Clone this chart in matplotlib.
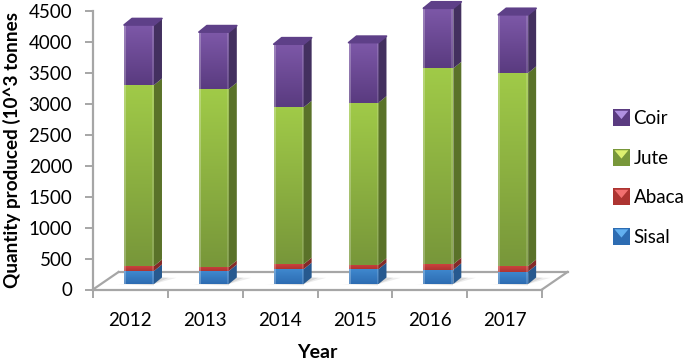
import numpy as np
import matplotlib
matplotlib.use('Agg')
import matplotlib.pyplot as plt
from matplotlib.colors import to_rgb
from matplotlib.legend_handler import HandlerBase
from matplotlib.patches import Patch, Polygon
from matplotlib.transforms import Affine2D, IdentityTransform

plt.rcParams['font.family'] = ['Lato', 'DejaVu Sans']

# Data (10^3 tonnes)
years = ['2012', '2013', '2014', '2015', '2016', '2017']
sisal = [210, 210, 240, 240, 230, 200]
abaca = [80, 65, 80, 70, 90, 90]
jute = [2925, 2875, 2535, 2620, 3165, 3120]
coir = [970, 920, 1020, 970, 970, 940]

series_names = ['Sisal', 'Abaca', 'Jute', 'Coir']
series_values = [sisal, abaca, jute, coir]

# front top, front bottom, side, light legend corner
colors = {
    'Sisal': ('#3F88CE', '#2D6CB2', '#27598F', '#62B0F0'),
    'Abaca': ('#CC423E', '#AD3431', '#842A28', '#F27070'),
    'Jute': ('#A0CA48', '#78973A', '#5A7229', '#DDF070'),
    'Coir': ('#7D58A8', '#5A3B80', '#43305F', '#B090E0'),
}

W, H = 685, 363
AX_LEFT, AX_RIGHT, AX_TOP, AX_BOTTOM = 93, 542, 11, 289.5
BAR_WIDTH = 0.4
FRONT_DX, FRONT_DY = 8.6, 5.5   # px offset of the bar fronts from the axis plane
DEPTH_DX, DEPTH_DY = 8, 6.5     # px depth of the bars
FLOOR_DX, FLOOR_DY = 25.5, 17.5
GRAY = '#A6A6A6'

fig = plt.figure(figsize=(W / 100, H / 100), dpi=100)
ax = fig.add_axes([AX_LEFT / W, 1 - AX_BOTTOM / H,
                   (AX_RIGHT - AX_LEFT) / W, (AX_BOTTOM - AX_TOP) / H])
ax.set_xlim(0, 6)
ax.set_ylim(0, 4500)


def shifted(dx, dy):
    return ax.transData + Affine2D().translate(dx, dy)


def gradient(top, bottom):
    # vertical shading with slightly lighter side edges, like the bevel in the original
    t = np.linspace(0, 1, 40)[:, None, None]
    img = np.array(to_rgb(top))[None, None, :] * (1 - t) + np.array(to_rgb(bottom))[None, None, :] * t
    img = np.repeat(img, 30, axis=1)
    img[:, :2] = img[:, :2] * 0.75 + 0.25
    img[:, -2:] = img[:, -2:] * 0.85 + 0.15
    return img


# floor
ax.plot([0, 6], [0, 0], color=GRAY, lw=1.6, transform=shifted(FLOOR_DX, FLOOR_DY), clip_on=False, zorder=1)
for x0 in (0, 6):
    p0 = ax.transData.transform((x0, 0))
    ax.plot([p0[0], p0[0] + FLOOR_DX], [p0[1], p0[1] + FLOOR_DY], color=GRAY, lw=1.6,
            transform=IdentityTransform(), clip_on=False, zorder=1)

front = shifted(FRONT_DX, FRONT_DY)
px_per_cat = (AX_RIGHT - AX_LEFT) / 6
px_per_val = (AX_BOTTOM - AX_TOP) / 4500
dx_cat = DEPTH_DX / px_per_cat
dy_val = DEPTH_DY / px_per_val

for i, year in enumerate(years):
    x0 = i + 0.5 - BAR_WIDTH / 2
    x1 = i + 0.5 + BAR_WIDTH / 2

    # soft shadow on the floor
    for grow, alpha in ((1.0, 0.14), (0.65, 0.2), (0.35, 0.28)):
        ax.add_patch(Polygon([(x1, 0), (x1 + grow * 0.3, dy_val * 0.95), (x1 + dx_cat, dy_val),
                              (x1, dy_val * 0.2)],
                             transform=front, facecolor='#808080', edgecolor='none', alpha=alpha,
                             clip_on=False, zorder=2))
        ax.add_patch(Polygon([(x0 - grow * 0.13, 0), (x1, 0), (x1, -grow * dy_val * 0.3)],
                             transform=front, facecolor='#808080', edgecolor='none', alpha=alpha * 0.5,
                             clip_on=False, zorder=2))

    bottom = 0
    for name, values in zip(series_names, series_values):
        top_c, bot_c, side_c, _ = colors[name]
        v = values[i]
        ax.imshow(gradient(top_c, bot_c), extent=(x0, x1, bottom, bottom + v), aspect='auto',
                  transform=front, clip_on=False, zorder=3, interpolation='bilinear')
        ax.add_patch(Polygon([(x1, bottom), (x1 + dx_cat, bottom + dy_val),
                              (x1 + dx_cat, bottom + v + dy_val), (x1, bottom + v)],
                             transform=front, facecolor=side_c, edgecolor='none',
                             clip_on=False, zorder=3))
        bottom += v

    ax.add_patch(Polygon([(x0, bottom), (x1, bottom), (x1 + dx_cat, bottom + dy_val),
                          (x0 + dx_cat, bottom + dy_val)],
                         transform=front, facecolor='#5E4088', edgecolor='#5E4088', lw=1.2,
                         joinstyle='round', clip_on=False, zorder=3))

ax.set_xlim(0, 6)
ax.set_ylim(0, 4500)
ax.patch.set_visible(False)
for side in ('top', 'right'):
    ax.spines[side].set_visible(False)
for side in ('left', 'bottom'):
    ax.spines[side].set_color(GRAY)
    ax.spines[side].set_linewidth(1.6)

ax.set_yticks(np.arange(0, 4501, 500))
ax.set_xticks(np.arange(0, 7))
ax.set_xticklabels([])
ax.set_xticks(np.arange(0.5, 6), labels=years, minor=True)
ax.tick_params(axis='y', length=6, width=1.4, color=GRAY, labelsize=13.5, pad=9, labelcolor='black')
ax.tick_params(axis='x', which='major', length=6, width=1.4, color=GRAY)
ax.tick_params(axis='x', which='minor', length=0, labelsize=13.5, pad=16)
ax.set_xlabel('Year', fontsize=14, fontweight='bold', labelpad=11)
fig.text(12 / W, 1 - 288 / H, 'Quantity produced (10^3 tonnes', rotation=90, ha='center', va='bottom',
         fontsize=13.6, fontweight='bold')


class BevelHandler(HandlerBase):
    def create_artists(self, legend, orig, xd, yd, width, height, fontsize, trans):
        light = orig.get_gid()
        x, y = -xd + (width - 12) / 2, -yd + (height - 12) / 2
        square = Polygon([(x, y), (x + 12, y), (x + 12, y + 12), (x, y + 12)],
                         facecolor=orig.get_facecolor(), edgecolor='none', transform=trans)
        tri = Polygon([(x + 1, y + 11), (x + 11, y + 11), (x + 6, y + 5)],
                      facecolor=light, edgecolor='none', transform=trans)
        return [square, tri]


handles = []
for name in reversed(series_names):
    patch = Patch(facecolor=colors[name][1], label=name)
    patch.set_gid(colors[name][3])
    handles.append(patch)
fig.legend(handles=handles, loc='center left', bbox_to_anchor=(613 / W, 1 - 178 / H), frameon=False,
           fontsize=13.5, labelspacing=1.2, handlelength=0.9, handletextpad=0.2, borderpad=0, borderaxespad=0,
           handler_map={Patch: BevelHandler()})

fig.savefig('out.png', dpi=100)
